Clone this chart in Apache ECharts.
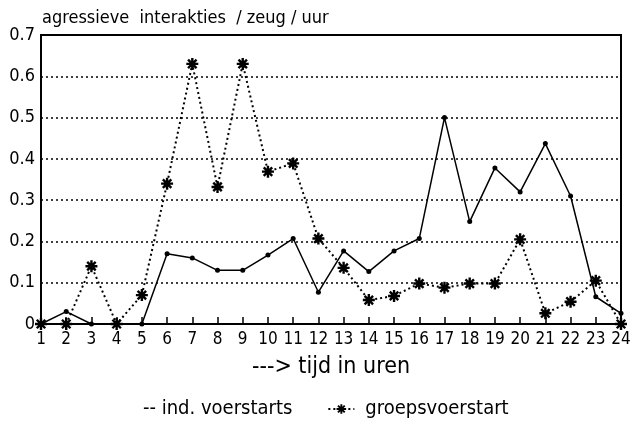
<!DOCTYPE html>
<html>
<head>
<meta charset="utf-8">
<script src="https://cdn.jsdelivr.net/npm/echarts@6/dist/echarts.min.js"></script>
<style>
  html, body { margin: 0; padding: 0; background: #fff; }
  #chart { width: 635px; height: 426px; }
</style>
</head>
<body>
<div id="chart"></div>
<script>
// uren 1..24
var uren = ['1','2','3','4','5','6','7','8','9','10','11','12','13','14','15','16','17','18','19','20','21','22','23','24']
// ind. voerstarts (doorgetrokken lijn)
var indVoerstarts = [0, 0.03, 0, 0, 0, 0.17, 0.16, 0.13, 0.13, 0.167, 0.207, 0.077, 0.177, 0.127, 0.177, 0.207, 0.5, 0.248, 0.378, 0.32, 0.437, 0.31, 0.066, 0.026]
// groepsvoerstart (stippellijn met sterretjes)
var groepsVoerstart = [0, 0, 0.14, 0, 0.07, 0.34, 0.63, 0.332, 0.63, 0.369, 0.389, 0.207, 0.136, 0.058, 0.068, 0.098, 0.088, 0.098, 0.098, 0.205, 0.026, 0.054, 0.105, 0]

var font = "'Liberation Sans Narrow', 'DejaVu Sans Condensed', sans-serif"
// sterretje als gevulde vorm
var ster = 'path://M0 4.8L12 4.8L12 7.2L0 7.2Z M4.8 0L7.2 0L7.2 12L4.8 12Z ' +
  'M0.91 2.61L2.61 0.91L11.09 9.39L9.39 11.09Z M9.39 0.91L11.09 2.61L2.61 11.09L0.91 9.39Z'

var chart = echarts.init(document.getElementById('chart'))
var option = {
  animation: false,
  backgroundColor: '#fff',
  title: {
    text: 'agressieve  interakties  / zeug / uur',
    left: 37,
    top: 4,
    textStyle: { fontFamily: font, fontSize: 18, fontWeight: 'normal', color: '#000' }
  },
  legend: {
    left: 101,
    top: 394,
    itemWidth: 26,
    itemHeight: 12,
    itemGap: 35,
    data: [
      { name: 'ind. voerstarts', icon: 'none' },
      { name: 'groepsvoerstart' }
    ],
    formatter: function (n) { return n === 'ind. voerstarts' ? '-- ' + n : n },
    textStyle: { fontFamily: font, fontSize: 20, color: '#000', padding: [0, 0, 0, 6] }
  },
  grid: {
    left: 41, right: 14, top: 35, bottom: 102,
    show: true, borderColor: '#000', borderWidth: 2
  },
  xAxis: {
    type: 'category',
    data: uren,
    boundaryGap: false,
    name: '---> tijd in uren',
    nameLocation: 'middle',
    nameGap: 32,
    nameTextStyle: { fontFamily: font, fontSize: 23, color: '#000' },
    axisLine: { lineStyle: { color: '#000', width: 2 } },
    axisTick: { inside: true, length: 7, lineStyle: { color: '#000', width: 1.5 } },
    axisLabel: { fontFamily: font, fontSize: 17, color: '#000', margin: 7, interval: 0 },
    splitLine: { show: false }
  },
  yAxis: {
    type: 'value',
    min: 0, max: 0.7, interval: 0.1,
    axisLine: { show: true, lineStyle: { color: '#000', width: 2 } },
    axisTick: { show: false },
    axisLabel: {
      fontFamily: font, fontSize: 18, color: '#000', margin: 6,
      formatter: function (v) { return v === 0 ? '0' : v.toFixed(1) }
    },
    splitLine: { lineStyle: { color: '#000', width: 1.5, type: [2, 3] } }
  },
  series: [
    {
      name: 'groepsvoerstart',
      type: 'line',
      data: groepsVoerstart,
      symbol: ster,
      symbolSize: 12,
      itemStyle: { color: '#000' },
      lineStyle: { color: '#000', width: 2, type: [2, 3] }
    },
    {
      name: 'ind. voerstarts',
      type: 'line',
      data: indVoerstarts,
      symbol: 'circle',
      symbolSize: 5,
      itemStyle: { color: '#000' },
      lineStyle: { color: '#000', width: 1.5 }
    }
  ]
}
chart.setOption(option)
</script>
</body>
</html>
